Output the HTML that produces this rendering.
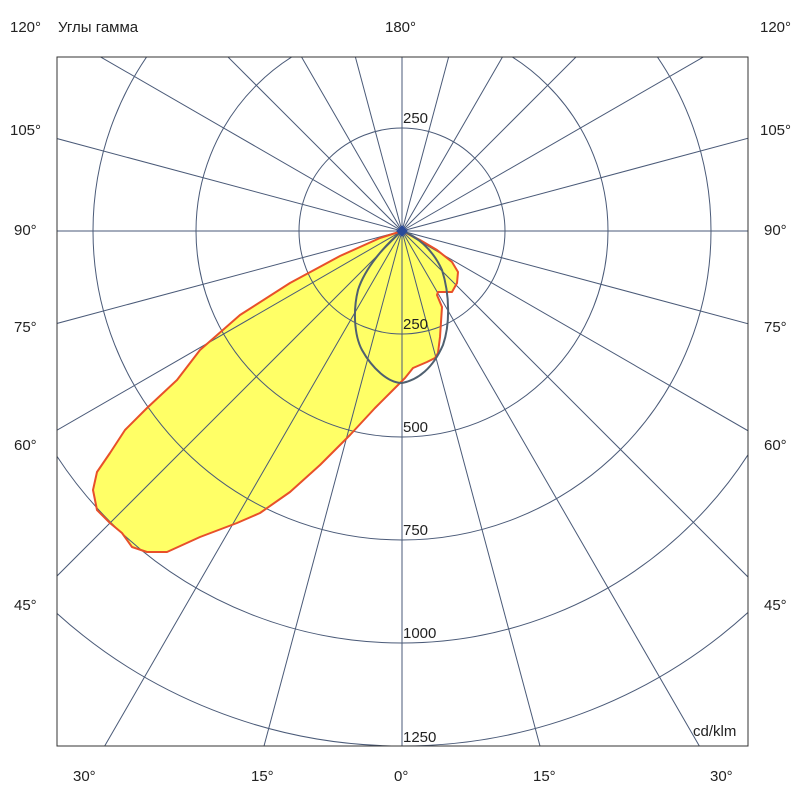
<!DOCTYPE html>
<html><head><meta charset="utf-8"><style>
html,body{margin:0;padding:0;background:#fff;overflow:hidden;width:800px;height:800px}
svg{display:block}
svg text{font-family:"Liberation Sans","DejaVu Sans",sans-serif;font-size:15px;fill:#222}
</style></head><body>
<svg width="800" height="800" viewBox="0 0 800 800" xmlns="http://www.w3.org/2000/svg">
<defs><clipPath id="c"><rect x="57" y="57" width="691" height="689"/></clipPath></defs>
<g clip-path="url(#c)">
<path d="M402,231 L380,238 L340,256 L290,283 L240,315 L200,350 L177,380 L147,408 L125,430 L110,453 L97,472 L93,490 L97,510 L110,523 L122,533 L132,547 L147,552 L167,552 L200,537 L237,523 L260,513 L290,492 L320,465 L350,435 L375,408 L395,388 L405,378 L413,368 L427,362 L435,358 L438,353 L440,337 L442,307 L437,295 L438,292 L446,292 L452,292 L457,283 L458,272 L452,262 L437,250 L420,240 Z" fill="#ffff66"/>
<g stroke="#4a5a78" stroke-width="1" fill="none">
<circle cx="402" cy="231" r="103"/><circle cx="402" cy="231" r="206"/><circle cx="402" cy="231" r="309"/><circle cx="402" cy="231" r="412"/><circle cx="402" cy="231" r="515"/>
<g id="r">
<line x1="402" y1="231" x2="402" y2="1231"/>
<line x1="402" y1="231" x2="402" y2="1231" transform="rotate(15 402 231)"/>
<line x1="402" y1="231" x2="402" y2="1231" transform="rotate(30 402 231)"/>
<line x1="402" y1="231" x2="402" y2="1231" transform="rotate(45 402 231)"/>
<line x1="402" y1="231" x2="402" y2="1231" transform="rotate(60 402 231)"/>
<line x1="402" y1="231" x2="402" y2="1231" transform="rotate(75 402 231)"/>
<line x1="402" y1="231" x2="402" y2="1231" transform="rotate(90 402 231)"/>
<line x1="402" y1="231" x2="402" y2="1231" transform="rotate(105 402 231)"/>
<line x1="402" y1="231" x2="402" y2="1231" transform="rotate(120 402 231)"/>
<line x1="402" y1="231" x2="402" y2="1231" transform="rotate(135 402 231)"/>
<line x1="402" y1="231" x2="402" y2="1231" transform="rotate(150 402 231)"/>
<line x1="402" y1="231" x2="402" y2="1231" transform="rotate(165 402 231)"/>
</g>
<use href="#r" transform="rotate(180 402 231)"/>
</g>
<path d="M402,231 L380,238 L340,256 L290,283 L240,315 L200,350 L177,380 L147,408 L125,430 L110,453 L97,472 L93,490 L97,510 L110,523 L122,533 L132,547 L147,552 L167,552 L200,537 L237,523 L260,513 L290,492 L320,465 L350,435 L375,408 L395,388 L405,378 L413,368 L427,362 L435,358 L438,353 L440,337 L442,307 L437,295 L438,292 L446,292 L452,292 L457,283 L458,272 L452,262 L437,250 L420,240 Z" fill="none" stroke="#e8502a" stroke-width="2" stroke-linejoin="round"/>
<path d="M402,231 C385,245 365,268 358,290 C353,310 354,335 362,350 C372,368 388,383 402,383 C418,380 433,368 443,345 C450,325 450,295 442,270 C432,248 416,236 402,231 Z" fill="none" stroke="#4f6070" stroke-width="2"/>
<polygon points="402,225 408,231 402,237 396,231" fill="#2a4a9a"/>
</g>
<rect x="57" y="57" width="691" height="689" fill="none" stroke="#333" stroke-width="1"/>
<text x="403" y="123">250</text>
<text x="403" y="329">250</text>
<text x="403" y="432">500</text>
<text x="403" y="535">750</text>
<text x="403" y="638">1000</text>
<text x="403" y="742">1250</text>
<text x="693" y="736">cd/klm</text>
<text x="10" y="32">120°</text>
<text x="58" y="32">Углы гамма</text>
<text x="385" y="32">180°</text>
<text x="760" y="32">120°</text>
<text x="10" y="135">105°</text><text x="760" y="135">105°</text>
<text x="14" y="235">90°</text><text x="764" y="235">90°</text>
<text x="14" y="332">75°</text><text x="764" y="332">75°</text>
<text x="14" y="450">60°</text><text x="764" y="450">60°</text>
<text x="14" y="610">45°</text><text x="764" y="610">45°</text>
<text x="73" y="781">30°</text>
<text x="251" y="781">15°</text>
<text x="394" y="781">0°</text>
<text x="533" y="781">15°</text>
<text x="710" y="781">30°</text>
</svg>
</body></html>
